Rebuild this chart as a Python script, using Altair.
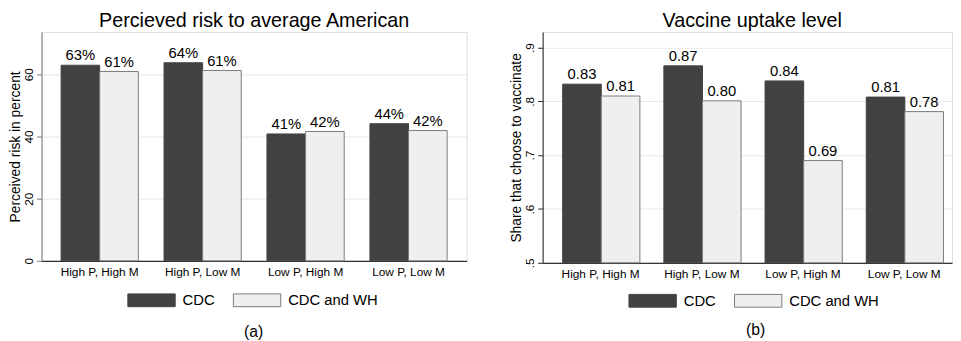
import altair as alt
import pandas as pd

categories = ["High P, High M", "High P, Low M", "Low P, High M", "Low P, Low M"]
series = ["CDC", "CDC and WH"]
risk_cdc = [62.9, 63.7, 40.8, 44.1]
risk_cdc_wh = [60.9, 61.2, 41.6, 41.9]
uptake_cdc = [0.832, 0.866, 0.838, 0.808]
uptake_cdc_wh = [0.810, 0.801, 0.690, 0.781]
titles = ["Percieved risk to average American", "Vaccine uptake level"]
y_titles = ["Perceived risk in percent", "Share that choose to vaccinate"]
captions = ["(a)", "(b)"]
risk_ticks = [0, 20, 40, 60]
uptake_ticks = [0.5, 0.6, 0.7, 0.8, 0.9]

FONT = "Liberation Sans"
DARK = "#414141"
LIGHT = "#efefef"
EDGE = "#7a7a7a"


def make_df(a, b, fmt):
    rows = []
    for i, c in enumerate(categories):
        for s, v in zip(series, (a[i], b[i])):
            rows.append({"cat": c, "series": s, "value": v, "label": fmt(v)})
    return pd.DataFrame(rows)


df_risk = make_df(risk_cdc, risk_cdc_wh, lambda v: f"{v:.0f}%")
df_up = make_df(uptake_cdc, uptake_cdc_wh, lambda v: f"{v:.2f}")


def panel(df, title, ytitle, caption, domain, ticks, label_expr, width, height,
          pad_outer, align, title_dx, legend_x, legend_y, cap_x, cap_y, axis_color):
    xscale = alt.Scale(paddingInner=0.25, paddingOuter=pad_outer, align=align)
    xenc = alt.X("cat:N", sort=categories, title=None, scale=xscale,
                 axis=alt.Axis(labelAngle=0, ticks=False, labelPadding=6, labelFontSize=12,
                               labelFont=FONT, labelColor="#000000", domainColor="#000000",
                               domainWidth=1, grid=False))
    xoff = alt.XOffset("series:N", sort=series,
                       scale=alt.Scale(paddingInner=0, paddingOuter=0))
    yscale = alt.Scale(domain=domain, nice=False, zero=False)
    yaxis = alt.Axis(values=ticks, labelExpr=label_expr, labelAngle=270, labelAlign="center",
                     labelBaseline="alphabetic", labelPadding=4, tickSize=5, tickColor=axis_color,
                     domainColor=axis_color, labelFontSize=12, labelFont=FONT,
                     labelColor="#000000", titleFont=FONT, titleFontSize=14,
                     titleFontWeight="normal", titleColor="#000000", titlePadding=0,
                     grid=True, gridColor="#e8e8e8", gridWidth=1)
    leg = alt.Legend(orient="none", legendX=legend_x, legendY=legend_y, direction="horizontal",
                     title=None, symbolType="M-1,-0.27L1,-0.27L1,0.27L-1,0.27Z",
                     symbolSize=2304, symbolStrokeWidth=1, labelFontSize=15, labelFont=FONT,
                     labelColor="#000000", labelOffset=7, columnPadding=16, padding=0)
    base = alt.Chart(df)
    bars = base.mark_bar(strokeWidth=1).encode(
        x=xenc, xOffset=xoff,
        y=alt.Y("value:Q", title=ytitle, scale=yscale, axis=yaxis),
        y2=alt.datum(domain[0]),
        fill=alt.Fill("series:N", sort=series,
                      scale=alt.Scale(domain=series, range=[DARK, LIGHT]), legend=leg),
        stroke=alt.Stroke("series:N", sort=series,
                          scale=alt.Scale(domain=series, range=[DARK, EDGE]), legend=leg),
    )
    labels = base.mark_text(baseline="alphabetic", dy=-5, fontSize=15, font=FONT,
                            color="#000000").encode(
        x=alt.X("cat:N", sort=categories), xOffset=alt.XOffset("series:N", sort=series),
        y=alt.Y("value:Q"), text="label:N")
    cap = alt.Chart(alt.Data(values=[{"caption": caption}])).mark_text(
        fontSize=16, font=FONT, color="#000000", baseline="middle", align="center").encode(
        x=alt.value(cap_x), y=alt.value(cap_y), text="caption:N")
    return alt.layer(bars, labels, cap).properties(
        width=width, height=height,
        title=alt.TitleParams(title, fontSize=20, font=FONT, fontWeight="normal",
                              color="#000000", baseline="bottom", offset=-19,
                              anchor="middle", dx=title_dx))


left = panel(df_risk, titles[0], y_titles[0], captions[0], [0, 73.6], risk_ticks,
             "format(datum.value, 'd')", 431, 232, 0.19, 0.5, 0, 87, 247.5, 215, 304, "#777777")
right = panel(df_up, titles[1], y_titles[1], captions[1], [0.5, 0.929], uptake_ticks,
              "substring(format(datum.value, '.1f'), 1)", 415, 234, 0.1477, 0.67, 5, 87, 248,
              216, 302, "#222222")

chart = alt.hconcat(left, right, spacing=42).resolve_scale(
    x="independent", y="independent", fill="independent", stroke="independent"
).properties(padding={"left": 0, "top": 0, "right": 0, "bottom": 0}).configure_view(
    stroke=None).configure(background="#ffffff")

chart.save("out.html", embed_options={"renderer": "svg", "actions": False})
